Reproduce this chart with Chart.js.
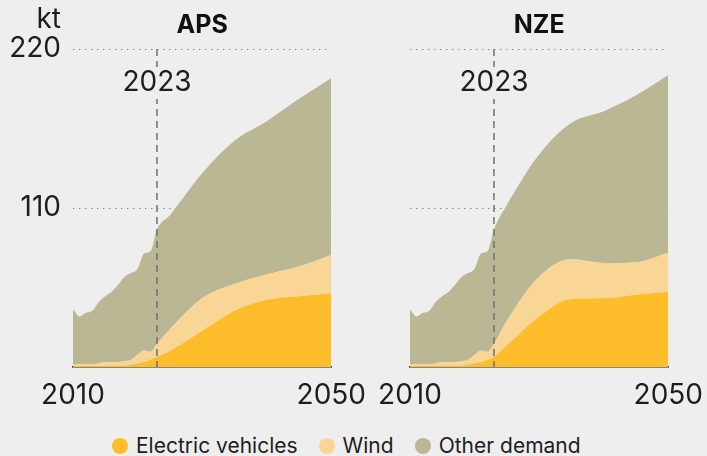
<!DOCTYPE html>
<html>
<head>
<meta charset="utf-8">
<script src="https://cdn.jsdelivr.net/npm/chart.js@4"></script>
<style>
  body { margin: 0; background: #eeeeee; width: 707px; height: 456px; overflow: hidden; position: relative; font-family: Inter, sans-serif; }
  canvas { position: absolute; top: 0; }
  #aps { left: 0; }
  #nze { left: 370px; }
  .legend { position: absolute; left: 112px; top: 433px; display: flex; align-items: center; font-size: 21px; color: #1d1d1d; }
  .legend .item { display: flex; align-items: center; margin-right: 21px; }
  .legend .dot { width: 16px; height: 16px; border-radius: 50%; margin-right: 8px; }
</style>
</head>
<body>
<canvas id="aps" width="370" height="420"></canvas>
<canvas id="nze" width="337" height="420"></canvas>
<div class="legend" id="legend"></div>
<script>
// years: history yearly to 2023, then projection steps
const years = [2010, 2011, 2012, 2013, 2014, 2015, 2016, 2017, 2018, 2019, 2020, 2021, 2022, 2023,
               2025, 2030, 2035, 2040, 2045, 2050];

// kt per year, stacked: EV, wind, other
const histEv    = [0.8, 0.8, 0.8, 0.8, 0.8, 0.8, 0.8, 0.8, 1, 1.5, 2.5, 3.5, 5, 7];
const histWind  = [0.7, 1.2, 1.2, 1.2, 1.7, 2.7, 2.7, 2.7, 3, 3.5, 6, 8, 5.5, 9];
const histOther = [38.5, 33, 35.5, 37, 42.5, 45.5, 48.5, 53.5, 58.5, 60, 59.5, 67, 69.5, 79];

const apsEv    = [11, 25, 39, 46.5, 49, 51];
const apsWind  = [15, 22.5, 18.5, 17.5, 20.5, 26.5];
const apsOther = [79, 86.5, 99, 106, 116, 122.5];

const nzeEv    = [15, 35, 47, 47.5, 50, 52];
const nzeWind  = [17, 27.5, 27.5, 24.5, 22.5, 27];
const nzeOther = [80, 84.5, 94.5, 105, 115.5, 123];

const yTicks = [110, 220];
const xTicks = [2010, 2050];
const markerYear = 2023;

const seriesNames = ["Electric vehicles", "Wind", "Other demand"];
const colors = ["#fdbd2b", "#f9d596", "#b9b794"];

const bg = "#eeeeee";
const ink = "#1d1d1d";
const labelSize = 28;

Chart.defaults.font.family = "Inter";
Chart.defaults.color = ink;

const toPoints = (vals) => vals.map((v, i) => ({ x: years[i], y: v }));

const markerPlugin = {
  id: "marker",
  afterDatasetsDraw(chart, args, opts) {
    const { ctx, chartArea, scales } = chart;
    const x = scales.x.getPixelForValue(markerYear);
    ctx.save();
    // dashed line for the base year
    ctx.strokeStyle = "#707070";
    ctx.lineWidth = 1.5;
    ctx.setLineDash([7, 5]);
    ctx.beginPath();
    ctx.moveTo(x, chartArea.top);
    ctx.lineTo(x, chartArea.bottom);
    ctx.stroke();
    ctx.setLineDash([]);

    ctx.font = labelSize + "px Inter";
    const w = ctx.measureText(String(markerYear)).width;
    const ly = 83;
    ctx.fillStyle = bg;
    ctx.fillRect(x - w / 2 - 2, ly - 16, w + 4, 32);
    ctx.fillStyle = ink;
    ctx.textAlign = "center";
    ctx.textBaseline = "middle";
    ctx.fillText(String(markerYear), x, ly);

    // panel title
    ctx.font = "bold 25px Inter";
    ctx.fillStyle = "#111";
    ctx.fillText(opts.title, (chartArea.left + chartArea.right) / 2, 25);

    if (opts.unit) {
      ctx.font = labelSize + "px Inter";
      ctx.textAlign = "right";
      ctx.fillStyle = ink;
      ctx.fillText(opts.unit, 61, 20);
    }
    ctx.restore();
  }
};

function makePanel(id, title, ev, wind, other, showY) {
  const evAll = histEv.concat(ev);
  const windAll = histWind.concat(wind);
  const otherAll = histOther.concat(other);
  const sets = [evAll, windAll, otherAll];

  new Chart(document.getElementById(id), {
    type: "line",
    data: {
      datasets: sets.map((vals, i) => ({
        label: seriesNames[i],
        data: toPoints(vals),
        backgroundColor: colors[i],
        borderWidth: 0,
        pointRadius: 0,
        fill: i === 0 ? "origin" : "-1",
        cubicInterpolationMode: "monotone"
      }))
    },
    options: {
      responsive: false,
      animation: false,
      layout: { padding: { top: 49, right: showY ? 38 : 37, left: 0, bottom: 0 } },
      plugins: {
        legend: { display: false },
        tooltip: { enabled: false },
        marker: { title: title, unit: showY ? "kt" : null }
      },
      scales: {
        x: {
          type: "linear",
          min: 2010,
          max: 2050,
          z: 1,
          afterBuildTicks: (s) => { s.ticks = xTicks.map((v) => ({ value: v })); },
          afterFit: (s) => { s.height = 53; },
          grid: { display: false },
          border: { display: true, color: "#1f1f1f", width: 1.5 },
          ticks: { padding: 4, maxRotation: 0, autoSkip: false, font: { size: labelSize }, color: ink,
                   callback: (v) => String(v) }
        },
        y: {
          stacked: true,
          min: 0,
          max: 220,
          afterBuildTicks: (s) => { s.ticks = yTicks.map((v) => ({ value: v })); },
          afterFit: (s) => { s.width = showY ? 73 : 40; },
          grid: { color: "#8a8a8a", lineWidth: 1, drawTicks: false },
          border: { display: false, dash: [1.5, 4.5] },
          ticks: { display: showY, padding: 12, font: { size: labelSize }, color: ink }
        }
      }
    },
    plugins: [markerPlugin]
  });
}

makePanel("aps", "APS", apsEv, apsWind, apsOther, true);
makePanel("nze", "NZE", nzeEv, nzeWind, nzeOther, false);

// shared legend below both panels
const legend = document.getElementById("legend");
seriesNames.forEach((name, i) => {
  const item = document.createElement("div");
  item.className = "item";
  item.innerHTML = `<span class="dot" style="background:${colors[i]}"></span><span>${name}</span>`;
  legend.appendChild(item);
});
</script>
</body>
</html>
